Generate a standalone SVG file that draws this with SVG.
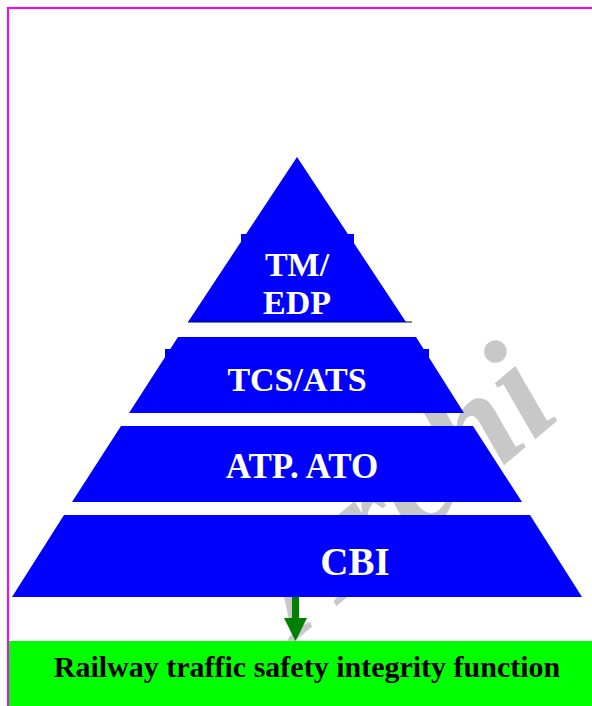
<svg xmlns="http://www.w3.org/2000/svg" width="592" height="706" viewBox="0 0 592 706">
<style>
.layer{fill:#0000ff}
.lbl{font-family:"Liberation Serif","Times New Roman",serif;font-weight:bold;fill:#ffffff;text-anchor:middle}
.base{font-family:"Liberation Serif","Times New Roman",serif;font-weight:bold;fill:#000000;text-anchor:middle}
.wm{font-family:"Liberation Serif","Times New Roman",serif;font-weight:bold;font-style:italic;fill:#c8c8c8}
</style>
<rect x="0" y="0" width="592" height="706" fill="#ffffff"/>
<path d="M8,706 V8 H592" fill="none" stroke="#ff00ff" stroke-width="2"/>
<text class="wm" font-size="150" transform="translate(296,640) rotate(-40)">Archi</text>
<g id="layer-tm-edp">
<polygon class="layer" points="297,157 406,322 188,322"/>
<rect class="layer" x="241" y="234" width="113" height="88"/>
<line x1="188" y1="322" x2="412" y2="322" stroke="#000033" stroke-width="1"/>
<text class="lbl" font-size="34" x="297" y="276">TM/</text>
<text class="lbl" font-size="34" x="297" y="314">EDP</text>
</g>
<g id="layer-tcs-ats">
<polygon class="layer" points="178,337 416,337 464,413 129,413"/>
<rect class="layer" x="165" y="349" width="264" height="64"/>
<text class="lbl" font-size="34" x="297" y="391">TCS/ATS</text>
</g>
<g id="layer-atp-ato">
<polygon class="layer" points="121,426 473,426 522,502 72,502"/>
<text class="lbl" font-size="35" x="302" y="478">ATP. ATO</text>
</g>
<g id="layer-cbi">
<polygon class="layer" points="64,515 530,515 582,597 12,597"/>
<text class="lbl" font-size="39" x="355" y="575">CBI</text>
</g>
<g id="safety-function">
<rect x="9" y="641" width="583" height="65" fill="#00ff00"/>
<text class="base" font-size="30" x="307" y="677">Railway traffic safety integrity function</text>
</g>
<g id="connectors">
<rect x="292" y="597" width="7" height="22" fill="#008000"/>
<polygon points="284,618 307,618 295.5,641" fill="#008000"/>
</g>
</svg>
